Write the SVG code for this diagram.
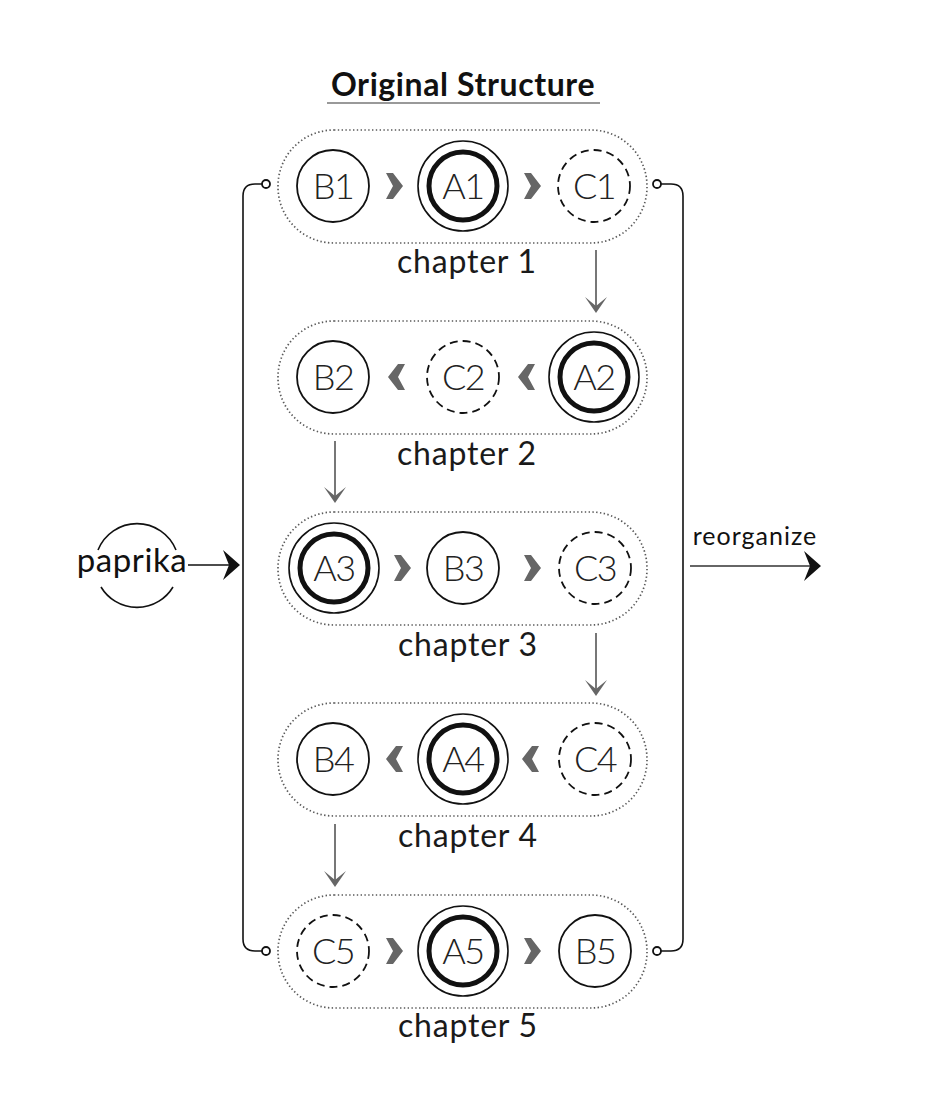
<svg xmlns="http://www.w3.org/2000/svg" width="941" height="1119" viewBox="0 0 941 1119">
<defs>
<style>
.box{fill:none;stroke:#5a5a5a;stroke-width:1.7;stroke-dasharray:1.4 2.4}
.b{fill:#fff;stroke:#111;stroke-width:1.8}
.c{fill:#fff;stroke:#111;stroke-width:1.8;stroke-dasharray:8 5}
.ao{fill:#fff;stroke:#111;stroke-width:1.6}
.ai{fill:none;stroke:#111;stroke-width:5}
.lbl{font-family:Lato,"Liberation Sans",sans-serif;font-weight:300;font-size:36px;fill:#222;text-anchor:middle;letter-spacing:-1.5px}
.cap{font-family:Lato,"Liberation Sans",sans-serif;font-weight:normal;font-size:32px;fill:#1a1a1a;text-anchor:middle;letter-spacing:0.8px}
.chev{fill:#666}
.varr{stroke:#777;stroke-width:2;fill:none}
.vhead{fill:#666}
.br{fill:none;stroke:#111;stroke-width:1.6}
.dot{fill:#fff;stroke:#111;stroke-width:1.8}
</style>
<path id="chR" d="M-8,-13 L-1,-13 L9,0 L-1,13 L-8,13 L-1,0 Z"/>
<path id="chL" d="M8,-13 L1,-13 L-9,0 L1,13 L8,13 L1,0 Z"/>
<path id="vh" d="M-11,-16 L0,-7 L11,-16 L0,0 Z"/>
</defs>
<rect width="941" height="1119" fill="#fff"/>

<g id="title">
<text x="463" y="96" font-family="Lato,'Liberation Sans',sans-serif" font-weight="bold" font-size="32" fill="#111" text-anchor="middle" letter-spacing="0.6">Original Structure</text>
<line x1="327" y1="103" x2="600" y2="103" stroke="#777" stroke-width="1.5"/>
</g>

<g id="connectors">
<path class="br" d="M262,184 L255,184 Q243,184 243,196 L243,939 Q243,951 255,951 L262,951"/>
<path class="br" d="M661,184 L671,184 Q683,184 683,196 L683,939 Q683,951 671,951 L661,951"/>
<circle class="dot" cx="266" cy="184" r="4"/>
<circle class="dot" cx="266" cy="951" r="4"/>
<circle class="dot" cx="657" cy="184" r="4"/>
<circle class="dot" cx="657" cy="951" r="4"/>
<line class="varr" x1="596" y1="250" x2="596" y2="306"/>
<use href="#vh" class="vhead" x="596" y="313"/>
<line class="varr" x1="335" y1="441" x2="335" y2="496"/>
<use href="#vh" class="vhead" x="335" y="503"/>
<line class="varr" x1="596" y1="633" x2="596" y2="689"/>
<use href="#vh" class="vhead" x="596" y="696"/>
<line class="varr" x1="335" y1="824" x2="335" y2="880"/>
<use href="#vh" class="vhead" x="335" y="887"/>
<line x1="188" y1="565" x2="234" y2="565" stroke="#111" stroke-width="1.6"/>
<path d="M223,550 L240,565 L223,580 L229,565 Z" fill="#111"/>
<line x1="690" y1="566" x2="814" y2="566" stroke="#666" stroke-width="2"/>
<path d="M804,551 L821,566 L804,581 L810,566 Z" fill="#111"/>
</g>

<g id="paprika">
<path d="M98,550 A42,42 0 0 1 176,550" fill="none" stroke="#111" stroke-width="1.6"/>
<path d="M101,587 A42,42 0 0 0 173,587" fill="none" stroke="#111" stroke-width="1.6"/>
<text x="132" y="572" font-family="Lato,'Liberation Sans',sans-serif" font-size="33" fill="#111" text-anchor="middle" letter-spacing="0.6">paprika</text>
</g>

<g id="reorganize">
<text x="755" y="545" font-family="Lato,'Liberation Sans',sans-serif" font-size="25" fill="#111" text-anchor="middle" letter-spacing="1">reorganize</text>
</g>

<g id="chapter1">
<rect class="box" x="278" y="130" width="369" height="113" rx="56"/>
<circle class="b" cx="333" cy="186" r="36"/><text class="lbl" x="333" y="199">B1</text>
<use href="#chR" class="chev" x="394" y="186"/>
<circle class="ao" cx="463" cy="186" r="45"/><circle class="ai" cx="463" cy="186" r="34"/><text class="lbl" x="463" y="199">A1</text>
<use href="#chR" class="chev" x="532" y="186"/>
<circle class="c" cx="594" cy="186" r="36"/><text class="lbl" x="594" y="199">C1</text>
<text class="cap" x="467" y="273">chapter 1</text>
</g>

<g id="chapter2">
<rect class="box" x="278" y="321" width="369" height="113" rx="56"/>
<circle class="b" cx="333" cy="377" r="36"/><text class="lbl" x="333" y="390">B2</text>
<use href="#chL" class="chev" x="397" y="377"/>
<circle class="c" cx="463" cy="377" r="36"/><text class="lbl" x="463" y="390">C2</text>
<use href="#chL" class="chev" x="527" y="377"/>
<circle class="ao" cx="594" cy="377" r="45"/><circle class="ai" cx="594" cy="377" r="34"/><text class="lbl" x="594" y="390">A2</text>
<text class="cap" x="467" y="465">chapter 2</text>
</g>

<g id="chapter3">
<rect class="box" x="278" y="512" width="369" height="113" rx="56"/>
<circle class="ao" cx="334" cy="568" r="45"/><circle class="ai" cx="334" cy="568" r="34"/><text class="lbl" x="334" y="581">A3</text>
<use href="#chR" class="chev" x="402" y="568"/>
<circle class="b" cx="463" cy="568" r="36"/><text class="lbl" x="463" y="581">B3</text>
<use href="#chR" class="chev" x="532" y="568"/>
<circle class="c" cx="595" cy="568" r="36"/><text class="lbl" x="595" y="581">C3</text>
<text class="cap" x="468" y="656">chapter 3</text>
</g>

<g id="chapter4">
<rect class="box" x="278" y="703" width="369" height="113" rx="56"/>
<circle class="b" cx="333" cy="759" r="36"/><text class="lbl" x="333" y="772">B4</text>
<use href="#chL" class="chev" x="395" y="759"/>
<circle class="ao" cx="463" cy="759" r="45"/><circle class="ai" cx="463" cy="759" r="34"/><text class="lbl" x="463" y="772">A4</text>
<use href="#chL" class="chev" x="531" y="759"/>
<circle class="c" cx="595" cy="759" r="36"/><text class="lbl" x="595" y="772">C4</text>
<text class="cap" x="468" y="847">chapter 4</text>
</g>

<g id="chapter5">
<rect class="box" x="278" y="895" width="369" height="113" rx="56"/>
<circle class="c" cx="333" cy="951" r="36"/><text class="lbl" x="333" y="964">C5</text>
<use href="#chR" class="chev" x="394" y="951"/>
<circle class="ao" cx="463" cy="951" r="45"/><circle class="ai" cx="463" cy="951" r="34"/><text class="lbl" x="463" y="964">A5</text>
<use href="#chR" class="chev" x="532" y="951"/>
<circle class="b" cx="595" cy="951" r="36"/><text class="lbl" x="595" y="964">B5</text>
<text class="cap" x="468" y="1037">chapter 5</text>
</g>
</svg>
